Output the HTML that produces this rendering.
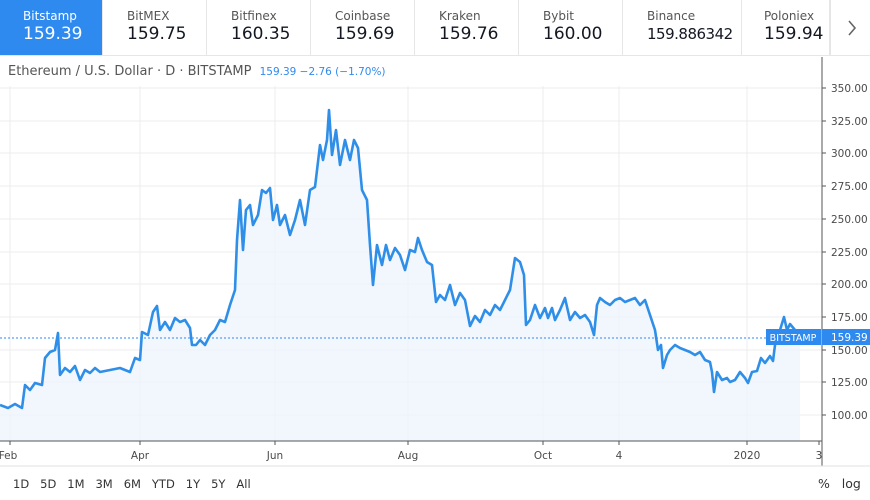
<!DOCTYPE html>
<html><head><style>
body{margin:0;width:870px;height:500px;background:#fff;font-family:"DejaVu Sans","Liberation Sans",sans-serif;overflow:hidden;position:relative}
.tab{position:absolute;top:0;height:55px;width:103px;border-right:1px solid #e6e6e6;box-sizing:border-box;padding-left:23px;overflow:hidden;white-space:nowrap}
.tab .n{font-size:12px;color:#555;margin-top:9px}
.tab .p{font-size:17px;color:#131722;margin-top:1px}
.sel{background:#2f8af0;}
.sel .n,.sel .p{color:#fff}
.t{position:absolute;font-size:11px;color:#4a4a4a}
</style></head><body>
<div style="position:absolute;left:0;top:55px;width:870px;height:1px;background:#e6e6e6"></div>
<div class="tab sel" style="left:0"><div class="n">Bitstamp</div><div class="p">159.39</div></div>
<div class="tab" style="left:104px"><div class="n">BitMEX</div><div class="p">159.75</div></div>
<div class="tab" style="left:208px"><div class="n">Bitfinex</div><div class="p">160.35</div></div>
<div class="tab" style="left:312px"><div class="n">Coinbase</div><div class="p">159.69</div></div>
<div class="tab" style="left:416px"><div class="n">Kraken</div><div class="p">159.76</div></div>
<div class="tab" style="left:520px"><div class="n">Bybit</div><div class="p">160.00</div></div>
<div class="tab" style="left:624px;width:114px;border-right:none;overflow:visible"><div class="n">Binance</div><div class="p" style="font-size:15px;letter-spacing:-0.5px;margin-top:2px">159.886342</div></div>
<div class="tab" style="left:741px;width:89px;padding-left:22px;border-left:1px solid #e6e6e6;background:#fff"><div class="n">Poloniex</div><div class="p">159.94</div></div>
<div style="position:absolute;left:830px;top:0;width:40px;height:55px;background:#fff;border-left:1px solid #e6e6e6"></div>
<svg style="position:absolute;left:846px;top:19px" width="12" height="18"><path d="M3 2 L9 9 L3 16" stroke="#666" stroke-width="1.6" fill="none"/></svg>
<svg style="position:absolute;left:0;top:0" width="870" height="500">
<g stroke="#ececec" stroke-width="1">
<line x1="0" x2="821" y1="88" y2="88"/><line x1="0" x2="821" y1="121" y2="121"/><line x1="0" x2="821" y1="153" y2="153"/><line x1="0" x2="821" y1="186" y2="186"/><line x1="0" x2="821" y1="219" y2="219"/><line x1="0" x2="821" y1="252" y2="252"/><line x1="0" x2="821" y1="284" y2="284"/><line x1="0" x2="821" y1="317" y2="317"/><line x1="0" x2="821" y1="350" y2="350"/><line x1="0" x2="821" y1="382" y2="382"/><line x1="0" x2="821" y1="415" y2="415"/>
<line x1="10" x2="10" y1="86" y2="441"/><line x1="140" x2="140" y1="86" y2="441"/><line x1="275" x2="275" y1="86" y2="441"/><line x1="408" x2="408" y1="86" y2="441"/><line x1="543" x2="543" y1="86" y2="441"/><line x1="619" x2="619" y1="86" y2="441"/><line x1="747" x2="747" y1="86" y2="441"/>
</g>
<polygon fill="#eef5fc" opacity="0.8" points="0,405 8,408 15,404 22,408 25,385 30,390 35,383 42,385 45,358 50,352 55,350 58,333 60,375 65,368 70,372 75,366 80,380 85,370 90,373 95,368 100,372 110,370 120,368 130,372 135,358 140,360 142,332 148,335 153,312 157,306 160,330 165,322 170,330 175,318 180,322 185,320 190,328 192,345 196,345 200,340 205,345 210,335 215,330 220,320 225,322 230,305 235,290 237,240 240,200 243,250 246,210 250,205 253,225 258,215 262,190 266,193 270,188 273,220 277,205 280,225 285,215 290,235 295,220 300,200 305,225 310,190 315,187 320,145 323,160 327,140 329,110 332,155 336,130 340,165 345,140 350,160 354,140 358,148 362,190 367,200 370,245 373,285 377,245 382,265 386,245 390,260 395,248 400,255 405,270 410,250 415,252 418,238 422,250 427,262 432,265 436,302 440,295 445,300 450,285 455,305 460,293 465,300 470,326 475,316 480,322 485,310 490,315 495,305 500,310 505,300 510,290 515,258 520,262 524,275 526,325 530,320 535,305 540,318 545,308 548,318 552,308 555,320 560,310 565,298 570,320 575,312 580,318 585,315 590,322 594,335 597,305 600,298 605,302 610,305 615,300 620,298 625,302 630,300 635,298 640,305 645,300 650,315 655,330 658,350 661,345 663,368 667,355 670,350 675,345 680,348 685,350 690,352 695,355 700,352 705,360 710,362 712,372 714,392 717,372 722,380 727,378 730,382 735,380 740,372 745,378 748,383 752,372 757,371 761,358 765,363 770,356 773,361 775,345 780,330 784,317 787,330 790,324 795,330 800,338 800,441 0,441"/>
<line x1="0" x2="821" y1="338" y2="338" stroke="#2f8af0" stroke-width="1" stroke-dasharray="2,2"/>
<polyline fill="none" stroke="#2f8fe8" stroke-width="2.6" stroke-linejoin="round" points="0,405 8,408 15,404 22,408 25,385 30,390 35,383 42,385 45,358 50,352 55,350 58,333 60,375 65,368 70,372 75,366 80,380 85,370 90,373 95,368 100,372 110,370 120,368 130,372 135,358 140,360 142,332 148,335 153,312 157,306 160,330 165,322 170,330 175,318 180,322 185,320 190,328 192,345 196,345 200,340 205,345 210,335 215,330 220,320 225,322 230,305 235,290 237,240 240,200 243,250 246,210 250,205 253,225 258,215 262,190 266,193 270,188 273,220 277,205 280,225 285,215 290,235 295,220 300,200 305,225 310,190 315,187 320,145 323,160 327,140 329,110 332,155 336,130 340,165 345,140 350,160 354,140 358,148 362,190 367,200 370,245 373,285 377,245 382,265 386,245 390,260 395,248 400,255 405,270 410,250 415,252 418,238 422,250 427,262 432,265 436,302 440,295 445,300 450,285 455,305 460,293 465,300 470,326 475,316 480,322 485,310 490,315 495,305 500,310 505,300 510,290 515,258 520,262 524,275 526,325 530,320 535,305 540,318 545,308 548,318 552,308 555,320 560,310 565,298 570,320 575,312 580,318 585,315 590,322 594,335 597,305 600,298 605,302 610,305 615,300 620,298 625,302 630,300 635,298 640,305 645,300 650,315 655,330 658,350 661,345 663,368 667,355 670,350 675,345 680,348 685,350 690,352 695,355 700,352 705,360 710,362 712,372 714,392 717,372 722,380 727,378 730,382 735,380 740,372 745,378 748,383 752,372 757,371 761,358 765,363 770,356 773,361 775,345 780,330 784,317 787,330 790,324 795,330 800,338"/>
<line x1="822" x2="822" y1="57" y2="466" stroke="#555" stroke-width="1"/>
<line x1="0" x2="822" y1="441" y2="441" stroke="#555" stroke-width="1"/>
<line x1="0" x2="870" y1="466" y2="466" stroke="#e0e0e0" stroke-width="1"/>
<g stroke="#555"><line x1="822" x2="826" y1="88" y2="88"/><line x1="822" x2="826" y1="121" y2="121"/><line x1="822" x2="826" y1="153" y2="153"/><line x1="822" x2="826" y1="186" y2="186"/><line x1="822" x2="826" y1="219" y2="219"/><line x1="822" x2="826" y1="252" y2="252"/><line x1="822" x2="826" y1="284" y2="284"/><line x1="822" x2="826" y1="317" y2="317"/><line x1="822" x2="826" y1="350" y2="350"/><line x1="822" x2="826" y1="382" y2="382"/><line x1="822" x2="826" y1="415" y2="415"/>
<line x1="10" x2="10" y1="441" y2="445"/><line x1="140" x2="140" y1="441" y2="445"/><line x1="275" x2="275" y1="441" y2="445"/><line x1="408" x2="408" y1="441" y2="445"/><line x1="543" x2="543" y1="441" y2="445"/><line x1="619" x2="619" y1="441" y2="445"/><line x1="747" x2="747" y1="441" y2="445"/><line x1="819" x2="819" y1="441" y2="445"/></g>
<g font-family="DejaVu Sans, Liberation Sans, sans-serif" font-size="10.5" fill="#4a4a4a">
<text x="831" y="92">350.00</text><text x="831" y="125">325.00</text><text x="831" y="157">300.00</text><text x="831" y="190">275.00</text><text x="831" y="223">250.00</text><text x="831" y="256">225.00</text><text x="831" y="288">200.00</text><text x="831" y="321">175.00</text><text x="831" y="354">150.00</text><text x="831" y="386">125.00</text><text x="831" y="419">100.00</text>
<g text-anchor="middle"><text x="8" y="459">Feb</text><text x="140" y="459">Apr</text><text x="275" y="459">Jun</text><text x="408" y="459">Aug</text><text x="543" y="459">Oct</text><text x="619" y="459">4</text><text x="747" y="459">2020</text><text x="819" y="459">3</text></g>
</g>
<rect x="766" y="329" width="55" height="16" fill="#2f8af0"/>
<text x="793" y="341" text-anchor="middle" font-family="DejaVu Sans, sans-serif" font-size="9.5" fill="#fff">BITSTAMP</text>
<rect x="822" y="329" width="48" height="16" fill="#2f8af0"/>
<text x="831" y="341" font-family="DejaVu Sans, sans-serif" font-size="10.5" fill="#fff">159.39</text>
</svg>
<div class="t" style="left:8px;top:64px;font-size:13px;color:#555">Ethereum / U.S. Dollar · D · BITSTAMP <span style="font-size:10.5px;color:#2f8af0;margin-left:4px">159.39 −2.76 (−1.70%)</span></div>
<div class="t" style="left:13px;top:477px;font-size:11.5px;color:#333;word-spacing:0">1D&nbsp;&nbsp;&nbsp;5D&nbsp;&nbsp;&nbsp;1M&nbsp;&nbsp;&nbsp;3M&nbsp;&nbsp;&nbsp;6M&nbsp;&nbsp;&nbsp;YTD&nbsp;&nbsp;&nbsp;1Y&nbsp;&nbsp;&nbsp;5Y&nbsp;&nbsp;&nbsp;All</div>
<div class="t" style="left:818px;top:476px;font-size:12.5px;color:#333">%&nbsp;&nbsp;&nbsp;log</div>
</body></html>
